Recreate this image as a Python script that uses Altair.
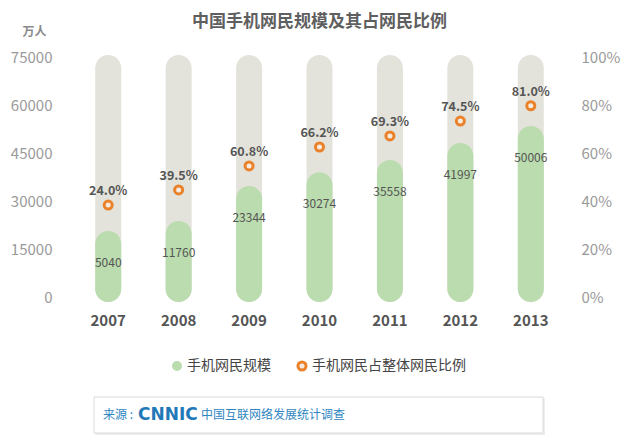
import altair as alt
import pandas as pd

# ---- data ----
years = ["2007", "2008", "2009", "2010", "2011", "2012", "2013"]
users = [5040, 11760, 23344, 30274, 35558, 41997, 50006]          # 万人 (labels)
share = [24.0, 39.5, 60.8, 66.2, 69.3, 74.5, 81.0]               # % (labels)
# heights / positions as they are drawn in the source graphic
bar_drawn = [20600, 23750, 34700, 39000, 42800, 48100, 53400]    # on left axis
ring_drawn = [38.3, 44.6, 54.6, 62.5, 67.1, 73.3, 79.7]          # on right axis
track = [-1600, 75600]                                            # grey track extent
left_ticks = [0, 15000, 30000, 45000, 60000, 75000]
right_ticks = [0, 20, 40, 60, 80, 100]
legend_labels = ["手机网民规模", "手机网民占整体网民比例"]
title_text = "中国手机网民规模及其占网民比例"
unit_text = "万人"
source_prefix = "来源 :"
source_logo = "CNNIC"
source_name = "中国互联网络发展统计调查"

FONT = "Noto Sans CJK SC"
GREEN = "#badcae"
TRACK = "#e3e3db"
ORANGE = "#e9822b"
RING_FILL = "#f8ebdd"
DARK = "#555555"
GREY = "#9a9a9a"
BLUE = "#2f86c2"

df = pd.DataFrame({
    "year": years,
    "users_label": [str(v) for v in users],
    "share_label": [f"{v:.1f}%" for v in share],
    "bar_drawn": bar_drawn,
    "ring_drawn": ring_drawn,
    "lo": [track[0]] * len(years),
    "hi": [track[1]] * len(years),
})

base = alt.Chart(df)

x_axis = alt.Axis(domain=False, ticks=False, grid=False, labelAngle=0,
                  labelPadding=16, labelFontSize=15, labelFontWeight="bold",
                  labelColor=DARK, title=None, labelFont=FONT)
x_enc = alt.X("year:N", sort=years,
              scale=alt.Scale(paddingInner=0, paddingOuter=0), axis=x_axis)

y_scale = alt.Scale(domain=[0, 75000], nice=False, zero=True)
y_axis = alt.Axis(values=left_ticks, format="d", domain=False, ticks=False,
                  grid=False, labelPadding=21, labelFontSize=15, labelColor=GREY,
                  labelFont=FONT,
                  title=unit_text, titleAngle=0, titleX=-39, titleY=-26,
                  titleAlign="center", titleBaseline="middle",
                  titleFontSize=12, titleFontWeight="bold", titleColor="#8a8a8a",
                  titleFont=FONT)

r_scale = alt.Scale(domain=[0, 100], nice=False)
r_axis = alt.Axis(orient="right", values=right_ticks, domain=False, ticks=False,
                  grid=False, labelPadding=15, labelFontSize=15, labelColor=GREY,
                  labelFont=FONT, labelExpr="datum.value + '%'", title=None)

bg = base.mark_bar(size=26, cornerRadius=13, color=TRACK).encode(
    x=x_enc,
    y=alt.Y("lo:Q", scale=y_scale, axis=y_axis),
    y2="hi:Q",
)
green = base.mark_bar(size=26, cornerRadius=13, color=GREEN).encode(
    x=x_enc,
    y=alt.Y("bar_drawn:Q", scale=y_scale, axis=y_axis),
    y2="lo:Q",
)
vals = base.mark_text(dy=32, fontSize=12, color=DARK, font=FONT).encode(
    x=x_enc,
    y=alt.Y("bar_drawn:Q", scale=y_scale, axis=y_axis),
    text="users_label:N",
)
left = alt.layer(bg, green, vals)

ring = base.mark_point(shape="circle", filled=True, fill=RING_FILL, stroke=ORANGE,
                       strokeWidth=3, size=65, opacity=1).encode(
    x=x_enc,
    y=alt.Y("ring_drawn:Q", scale=r_scale, axis=r_axis),
)
pct = base.mark_text(dy=-14, fontSize=12.5, fontWeight="bold", color=DARK,
                     font=FONT).encode(
    x=x_enc,
    y=alt.Y("ring_drawn:Q", scale=r_scale, axis=r_axis),
    text="share_label:N",
)
right = alt.layer(ring, pct)

# ---- legend (manual) ----
leg1 = pd.DataFrame({"label": [legend_labels[0]]})
leg2 = pd.DataFrame({"label": [legend_labels[1]]})
leg_dot = alt.Chart(leg1).mark_circle(size=100, color=GREEN, opacity=1).encode(
    x=alt.value(104), y=alt.value(309))
leg_txt1 = alt.Chart(leg1).mark_text(align="left", baseline="middle", fontSize=14,
                                     color="#444444", font=FONT).encode(
    x=alt.value(114), y=alt.value(309), text="label:N")
leg_ring = alt.Chart(leg2).mark_point(shape="circle", filled=True, fill=RING_FILL,
                                      stroke=ORANGE, strokeWidth=3, size=65,
                                      opacity=1).encode(
    x=alt.value(229), y=alt.value(309))
leg_txt2 = alt.Chart(leg2).mark_text(align="left", baseline="middle", fontSize=14,
                                     color="#444444", font=FONT).encode(
    x=alt.value(239), y=alt.value(309), text="label:N")

# ---- source box ----
src = pd.DataFrame({"prefix": [source_prefix], "logo": [source_logo],
                    "name": [source_name]})
shadow = alt.Chart(src).mark_rect(fill="#eeeeee").encode(
    x=alt.value(22), x2=alt.value(472), y=alt.value(341), y2=alt.value(378))
box = alt.Chart(src).mark_rect(fill="#ffffff", stroke="#dadada",
                               strokeWidth=1).encode(
    x=alt.value(21), x2=alt.value(470), y=alt.value(340), y2=alt.value(376))
src_prefix = alt.Chart(src).mark_text(align="left", baseline="middle", fontSize=12,
                                      color=BLUE, font=FONT).encode(
    x=alt.value(30), y=alt.value(358), text="prefix:N")
src_logo = alt.Chart(src).mark_text(align="left", baseline="middle", fontSize=17,
                                    fontWeight=900, color="#1f78b8",
                                    font="DejaVu Sans").encode(
    x=alt.value(65), y=alt.value(358), text="logo:N")
src_name = alt.Chart(src).mark_text(align="left", baseline="middle", fontSize=12,
                                    color=BLUE, font=FONT).encode(
    x=alt.value(128), y=alt.value(358), text="name:N")

chart = alt.layer(
    left, right, leg_dot, leg_txt1, leg_ring, leg_txt2,
    shadow, box, src_prefix, src_logo, src_name,
).resolve_scale(y="independent").properties(
    width=493,
    height=240,
    padding={"left": 65, "top": 49, "right": 56, "bottom": 140},
    autosize=alt.AutoSizeParams(type="none"),
    background="#ffffff",
    title=alt.TitleParams(title_text, fontSize=17, fontWeight="bold",
                          color="#5f5f5f", anchor="middle", frame="group",
                          font=FONT, offset=-6),
).configure_view(stroke=None)

chart.save("out.html", embed_options={"renderer": "svg", "actions": False})
